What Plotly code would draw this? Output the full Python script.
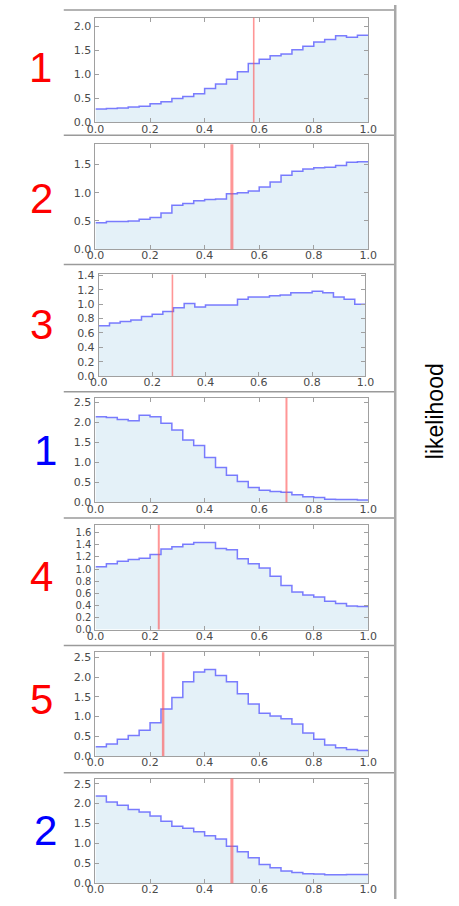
import numpy as np
import plotly.graph_objects as go

# ---- data -------------------------------------------------------------
bin_edges = np.linspace(0.0, 1.0, 26)  # 25 bins of width 0.04

panel_labels = ["1", "2", "3", "1", "4", "5", "2"]

density_1 = [0.28, 0.29, 0.30, 0.32, 0.34, 0.39, 0.43, 0.50, 0.54, 0.60,
             0.71, 0.80, 0.90, 1.06, 1.23, 1.32, 1.39, 1.43, 1.52, 1.59,
             1.68, 1.73, 1.81, 1.78, 1.82]
density_2 = [0.47, 0.49, 0.49, 0.50, 0.53, 0.56, 0.64, 0.78, 0.81, 0.86,
             0.88, 0.89, 0.98, 1.00, 1.03, 1.10, 1.19, 1.31, 1.38, 1.42,
             1.44, 1.45, 1.48, 1.54, 1.55]
density_3 = [0.70, 0.74, 0.76, 0.78, 0.83, 0.86, 0.90, 0.95, 1.01, 0.96,
             0.99, 0.99, 0.99, 1.07, 1.10, 1.10, 1.12, 1.13, 1.16, 1.16,
             1.18, 1.16, 1.10, 1.07, 1.00]
density_4 = [2.14, 2.12, 2.07, 2.04, 2.18, 2.14, 1.98, 1.81, 1.56, 1.42,
             1.12, 0.87, 0.68, 0.52, 0.37, 0.30, 0.27, 0.25, 0.19, 0.14,
             0.12, 0.08, 0.07, 0.07, 0.06]
density_5 = [1.04, 1.09, 1.13, 1.16, 1.18, 1.24, 1.33, 1.37, 1.41, 1.44,
             1.44, 1.34, 1.32, 1.17, 1.09, 1.02, 0.88, 0.73, 0.62, 0.57,
             0.54, 0.47, 0.43, 0.39, 0.38]
density_6 = [0.23, 0.30, 0.42, 0.52, 0.65, 0.84, 1.19, 1.48, 1.88, 2.13,
             2.19, 2.04, 1.88, 1.58, 1.32, 1.08, 1.01, 0.94, 0.81, 0.58,
             0.42, 0.28, 0.21, 0.16, 0.14]
density_7 = [2.19, 2.04, 1.96, 1.85, 1.79, 1.69, 1.56, 1.43, 1.38, 1.29,
             1.19, 1.11, 0.93, 0.79, 0.64, 0.47, 0.39, 0.31, 0.27, 0.24,
             0.23, 0.21, 0.21, 0.22, 0.22]

densities = [density_1, density_2, density_3, density_4,
             density_5, density_6, density_7]

# observed value marked by a vertical line in each panel
observed = [0.58, 0.50, 0.276, 0.70, 0.232, 0.248, 0.50]

# ---- styling / layout -------------------------------------------------
W, H = 459, 906
label_colors = ["#ff0000", "#ff0000", "#ff0000", "#0000ff",
                "#ff0000", "#ff0000", "#0000ff"]
# pixel boxes of each plotting area: (left, right, top, bottom)
boxes = [(90, 374, 13, 119), (90, 374, 141, 247.5), (93.5, 371, 273, 376),
         (90, 374, 398, 504), (90, 374, 527, 633), (90, 374, 656, 761),
         (90, 374, 784, 890)]
label_pos = [(33, 63), (34, 196), (34, 324), (38, 451),
             (34, 579), (34, 704), (38, 837)]
y_dticks = [0.5, 0.5, 0.2, 0.5, 0.2, 0.5, 0.5]
y_tick_sizes = [11, 11, 11, 11, 10, 11, 11]
red_widths = [1.6, 3, 1.6, 2, 2, 2.5, 3]
separators_y = [5, 132, 263, 392, 520, 649, 778]

FRAME = "#a0a0a0"
TICK_FAMILY = "DejaVu Sans"
TICK_COLOR = "#4a4a4a"

fig = go.Figure()
layout = dict(width=W, height=H, margin=dict(l=0, r=0, t=0, b=0),
              paper_bgcolor="white", plot_bgcolor="white",
              showlegend=False, shapes=[], annotations=[])

for i, (vals, obs) in enumerate(zip(densities, observed)):
    n = i + 1
    xa = "x" if n == 1 else f"x{n}"
    ya = "y" if n == 1 else f"y{n}"
    left, right, top, bottom = boxes[i]

    fig.add_trace(go.Scatter(
        x=list(bin_edges), y=list(vals) + [vals[-1]],
        mode="lines", line_shape="hv",
        line=dict(color="rgba(40,40,255,0.6)", width=1.5),
        fill="tozeroy", fillcolor="#e4f1f8",
        xaxis=xa, yaxis=ya, hoverinfo="skip"))

    axis_common = dict(showgrid=False, zeroline=False, showline=True,
                       linecolor=FRAME, linewidth=1, mirror="ticks",
                       ticks="inside", ticklen=4, tickcolor=FRAME,
                       tickwidth=1, tickformat=".1f")
    layout["xaxis" if n == 1 else f"xaxis{n}"] = dict(
        axis_common, domain=[left / W, right / W], range=[0, 1],
        dtick=0.2, tick0=0, anchor=ya, ticklabelstandoff=-4,
        tickfont=dict(family=TICK_FAMILY, size=11, color=TICK_COLOR))
    layout["yaxis" if n == 1 else f"yaxis{n}"] = dict(
        axis_common, domain=[1 - bottom / H, 1 - top / H],
        range=[0, 1.2 * max(vals)], dtick=y_dticks[i], tick0=0, anchor=xa,
        ticklabelstandoff=1,
        tickfont=dict(family=TICK_FAMILY, size=y_tick_sizes[i],
                      color=TICK_COLOR))

    # observed value
    layout["shapes"].append(dict(
        type="line", xref=xa, yref=f"{ya} domain", x0=obs, x1=obs, y0=0, y1=1,
        line=dict(color="rgba(255,80,80,0.6)", width=red_widths[i])))

    lx, ly = label_pos[i]
    layout["annotations"].append(dict(
        text=panel_labels[i], xref="paper", yref="paper",
        x=lx / W, y=1 - ly / H, showarrow=False, xanchor="center",
        yanchor="middle",
        font=dict(family="Liberation Sans", size=42, color=label_colors[i])))

# frame lines between panels
for sy in separators_y:
    layout["shapes"].append(dict(
        type="line", xref="paper", yref="paper",
        x0=57 / W, x1=401 / W, y0=1 - sy / H, y1=1 - sy / H,
        line=dict(color="#9a9a9a", width=1.5)))
layout["shapes"].append(dict(
    type="line", xref="paper", yref="paper",
    x0=402 / W, x1=402 / W, y0=0, y1=1,
    line=dict(color="#a8a8a8", width=2.5)))

layout["annotations"].append(dict(
    text="likelihood", xref="paper", yref="paper",
    x=443 / W, y=1 - 412 / H, showarrow=False, textangle=-90,
    xanchor="center", yanchor="middle",
    font=dict(family="Liberation Sans", size=23, color="#000000")))

fig.update_layout(**layout)
fig.write_html("out.html")
